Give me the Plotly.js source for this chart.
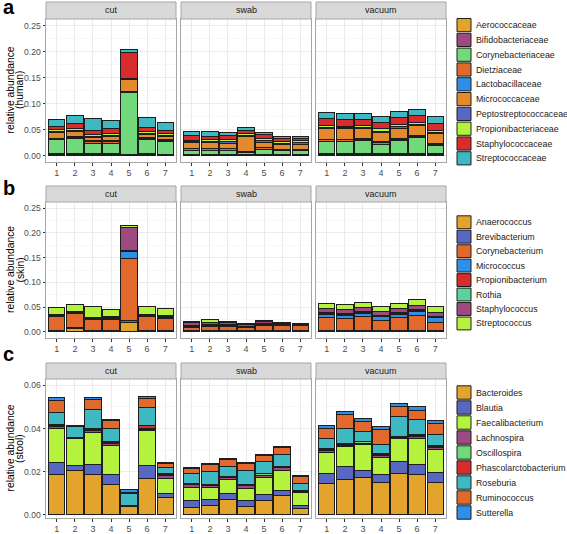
<!DOCTYPE html>
<html><head><meta charset="utf-8">
<script src="https://cdn.plot.ly/plotly-3.0.1.min.js"></script>
<style>html,body{margin:0;padding:0;background:#fff}#chart{width:567px;height:534px}</style>
</head><body><div id="chart"></div>
<script>
// ---------- DATA ----------
const samples = [1, 2, 3, 4, 5, 6, 7];
const facets = ['cut', 'swab', 'vacuum'];

const humanTaxa = ['Aerococcaceae','Bifidobacteriaceae','Corynebacteriaceae','Dietziaceae','Lactobacillaceae','Micrococcaceae','Peptostreptococcaceae','Propionibacteriaceae','Staphylococcaceae','Streptococcaceae'];
// rows = samples 1..7, columns = humanTaxa
const humanCut = [
  [0.002,0.001,0.027,0.002,0.001,0.011,0.002,0.004,0.005,0.015],
  [0.002,0.001,0.030,0.002,0.001,0.011,0.001,0.004,0.010,0.015],
  [0.002,0.001,0.021,0.003,0.001,0.007,0.002,0.004,0.008,0.022],
  [0.002,0.001,0.021,0.003,0.001,0.009,0.002,0.004,0.008,0.017],
  [0.0005,0.0005,0.121,0.001,0.0005,0.023,0.0005,0.001,0.051,0.005],
  [0.002,0.001,0.027,0.003,0.001,0.007,0.002,0.004,0.007,0.019],
  [0.001,0.001,0.024,0.003,0.001,0.007,0.002,0.003,0.006,0.016]
];
const humanSwab = [
  [0.001,0.001,0.008,0.003,0.0005,0.011,0.002,0.003,0.009,0.007],
  [0.001,0.001,0.008,0.003,0.0005,0.011,0.002,0.004,0.006,0.010],
  [0.001,0.001,0.008,0.003,0.0005,0.010,0.003,0.004,0.008,0.005],
  [0.001,0.001,0.003,0.002,0.0005,0.030,0.001,0.004,0.006,0.005],
  [0.001,0.001,0.010,0.003,0.0005,0.010,0.003,0.004,0.008,0.004],
  [0.001,0.001,0.007,0.003,0.0005,0.008,0.003,0.004,0.006,0.003],
  [0.001,0.001,0.007,0.003,0.0005,0.009,0.003,0.004,0.005,0.004]
];
const humanVacuum = [
  [0.002,0.001,0.024,0.003,0.001,0.020,0.002,0.004,0.014,0.012],
  [0.002,0.001,0.024,0.003,0.001,0.020,0.002,0.003,0.013,0.012],
  [0.002,0.001,0.026,0.002,0.001,0.019,0.002,0.004,0.012,0.012],
  [0.002,0.001,0.019,0.003,0.001,0.019,0.002,0.005,0.011,0.012],
  [0.002,0.001,0.025,0.003,0.001,0.020,0.003,0.005,0.013,0.012],
  [0.002,0.001,0.031,0.003,0.001,0.019,0.002,0.004,0.014,0.012],
  [0.002,0.001,0.016,0.003,0.001,0.019,0.003,0.004,0.013,0.013]
];

const skinTaxa = ['Anaerococcus','Brevibacterium','Corynebacterium','Micrococcus','Propionibacterium','Rothia','Staphylococcus','Streptococcus'];
const skinCut = [
  [0.001,0.001,0.028,0.001,0.001,0.001,0.002,0.014],
  [0.006,0.002,0.029,0.001,0.001,0.001,0.001,0.014],
  [0.001,0.001,0.022,0.001,0.001,0.001,0.001,0.023],
  [0.001,0.001,0.022,0.001,0.001,0.002,0.002,0.015],
  [0.019,0.004,0.125,0.014,0.001,0.001,0.046,0.006],
  [0.001,0.001,0.028,0.001,0.001,0.002,0.002,0.016],
  [0.001,0.002,0.024,0.001,0.001,0.002,0.001,0.016]
];
const skinSwab = [
  [0.001,0.001,0.007,0.001,0.001,0.001,0.006,0.003],
  [0.001,0.001,0.009,0.001,0.001,0.001,0.004,0.007],
  [0.001,0.001,0.009,0.001,0.001,0.001,0.005,0.002],
  [0.001,0.001,0.006,0.001,0.001,0.001,0.003,0.003],
  [0.001,0.001,0.011,0.001,0.001,0.001,0.004,0.003],
  [0.001,0.001,0.010,0.0005,0.0005,0.001,0.002,0.002],
  [0.001,0.001,0.010,0.0005,0.0005,0.001,0.002,0.0015]
];
const skinVacuum = [
  [0.001,0.002,0.026,0.006,0.002,0.003,0.008,0.010],
  [0.001,0.002,0.024,0.006,0.002,0.003,0.008,0.010],
  [0.001,0.001,0.028,0.007,0.002,0.002,0.008,0.010],
  [0.001,0.002,0.020,0.007,0.002,0.002,0.007,0.010],
  [0.001,0.002,0.026,0.007,0.002,0.002,0.008,0.010],
  [0.001,0.002,0.031,0.007,0.003,0.002,0.008,0.011],
  [0.001,0.002,0.016,0.009,0.002,0.001,0.009,0.011]
];

const stoolTaxa = ['Bacteroides','Blautia','Faecalibacterium','Lachnospira','Oscillospira','Phascolarctobacterium','Roseburia','Ruminococcus','Sutterella'];
const stoolCut = [
  [0.0185,0.006,0.0155,0.0008,0.0007,0.0005,0.0055,0.0055,0.0015],
  [0.0208,0.0022,0.0122,0.0002,0.0002,0.0002,0.005,0.0004,0.0003],
  [0.0185,0.005,0.0145,0.0012,0.0005,0.0003,0.009,0.0045,0.001],
  [0.014,0.0045,0.0135,0.001,0.0005,0.0005,0.006,0.0035,0.0007],
  [0.0037,0.0002,0.0001,0.0001,0.0001,0.0001,0.0057,0.0004,0.0012],
  [0.0171,0.0056,0.0163,0.0007,0.0005,0.001,0.0085,0.004,0.0013],
  [0.0082,0.0016,0.0072,0.0012,0.0005,0.0003,0.003,0.0018,0.0007]
];
const stoolSwab = [
  [0.0035,0.003,0.0062,0.0012,0.0003,0.0002,0.0046,0.0026,0.0003],
  [0.0045,0.0025,0.0055,0.0012,0.0003,0.0002,0.006,0.0032,0.0003],
  [0.0072,0.0026,0.0067,0.0008,0.0003,0.0002,0.0045,0.0033,0.0006],
  [0.004,0.0027,0.0056,0.0012,0.0003,0.0002,0.0064,0.0033,0.0005],
  [0.0065,0.003,0.008,0.0008,0.0007,0.0002,0.0055,0.003,0.0005],
  [0.009,0.0023,0.0092,0.0015,0.0003,0.0002,0.0055,0.003,0.0005],
  [0.0028,0.0017,0.0057,0.0004,0.0003,0.0002,0.0036,0.0032,0.0003]
];
const stoolVacuum = [
  [0.0145,0.0045,0.010,0.001,0.0004,0.0003,0.0048,0.0043,0.0017],
  [0.0163,0.0059,0.0093,0.0006,0.0004,0.0005,0.007,0.0065,0.0015],
  [0.0175,0.003,0.012,0.0007,0.0008,0.0002,0.0045,0.0047,0.0014],
  [0.015,0.0038,0.0077,0.001,0.0006,0.0004,0.0042,0.0068,0.0015],
  [0.019,0.0058,0.0107,0.0004,0.0003,0.0003,0.009,0.0045,0.0015],
  [0.0187,0.0048,0.012,0.0007,0.0005,0.0003,0.007,0.0045,0.0015],
  [0.0148,0.0047,0.011,0.0007,0.0004,0.0004,0.005,0.0055,0.0011]
];

// ---------- STYLE ----------
const humanColors = ['#E2A42C','#9C4A7F','#72D97B','#E2692C','#2F8FE6','#E58A2C','#5867C2','#B5F23E','#D82C2C','#3FB9C1'];
const skinColors  = ['#E2A42C','#5867C2','#E2692C','#2F8FE6','#D82C2C','#5CD19A','#9C4A7F','#B5F23E'];
const stoolColors = ['#E2A42C','#5867C2','#B5F23E','#9C4A7F','#72D97B','#D82C2C','#3FB9C1','#E2692C','#2F8FE6'];

const W = 567, H = 534;
const fx = v => v / W, fy = v => 1 - v / H;
const FONT = 'Liberation Sans, Arial, sans-serif';
const colX = [[46,176],[181,311],[316,446]];

const panels = [
  {taxa: humanTaxa, colors: humanColors, data: [humanCut, humanSwab, humanVacuum],
   strip: [2,19], plot: [19,162], range: [-0.0125,0.2625], dtick: 0.05, minor: 0.025,
   title: ['relative abundance', '(human)'], letter: 'a', letterY: 7, legTop: 17.7, legPitch: 14.8},
  {taxa: skinTaxa, colors: skinColors, data: [skinCut, skinSwab, skinVacuum],
   strip: [186,202], plot: [202,338], range: [-0.0125,0.2625], dtick: 0.05, minor: 0.025,
   title: ['relative abundance', '(skin)'], letter: 'b', letterY: 188, legTop: 215, legPitch: 14.46},
  {taxa: stoolTaxa, colors: stoolColors, data: [stoolCut, stoolSwab, stoolVacuum],
   strip: [363,379], plot: [379,518], range: [-0.0014,0.0629], dtick: 0.02, minor: 0.01,
   title: ['relative abundance', '(stool)'], letter: 'c', letterY: 354, legTop: 385, legPitch: 15}
];

const traces = [];
const shapes = [];
const annotations = [];
const layout = {
  width: W, height: H,
  margin: {l:0, r:0, t:0, b:0},
  paper_bgcolor: '#ffffff', plot_bgcolor: '#ffffff',
  font: {family: FONT, size: 9, color: '#4d4d4d'},
  barmode: 'stack',
  showlegend: false
};

let k = 0;
panels.forEach((p, pi) => {
  p.data.forEach((fd, fi) => {
    k++;
    const xn = k === 1 ? 'x' : 'x' + k;
    const yn = k === 1 ? 'y' : 'y' + k;
    const xa = k === 1 ? 'xaxis' : 'xaxis' + k;
    const ya = k === 1 ? 'yaxis' : 'yaxis' + k;
    p.taxa.forEach((t, ti) => {
      traces.push({
        type: 'bar', name: t, x: samples, y: fd.map(r => r[ti]),
        xaxis: xn, yaxis: yn, width: 0.9,
        marker: {color: p.colors[ti], line: {color: '#1e1e1e', width: 1}},
        showlegend: false, hovertemplate: t + ': %{y}<extra></extra>'
      });
    });
    layout[xa] = {
      domain: [fx(colX[fi][0]), fx(colX[fi][1])], anchor: yn,
      range: [0.4, 7.6], tickvals: samples, ticktext: samples.map(String),
      ticks: 'outside', ticklen: 2.5, tickcolor: '#333', tickwidth: 1,
      showline: true, mirror: true, linecolor: '#a6a6a6', linewidth: 1,
      showgrid: true, gridcolor: '#ebebeb', gridwidth: 1, zeroline: false,
      tickfont: {family: FONT, size: 9, color: '#4d4d4d'}, fixedrange: true
    };
    layout[ya] = {
      domain: [fy(p.plot[1]), fy(p.plot[0])], anchor: xn,
      range: p.range, tick0: 0, dtick: p.dtick, tickformat: '.2f',
      showticklabels: fi === 0, ticks: fi === 0 ? 'outside' : '',
      ticklen: 2.5, tickcolor: '#333', tickwidth: 1,
      showline: true, mirror: true, linecolor: '#a6a6a6', linewidth: 1,
      showgrid: true, gridcolor: '#ebebeb', gridwidth: 1, zeroline: false,
      minor: {dtick: p.minor, tick0: 0, showgrid: true, gridcolor: '#f4f4f4', gridwidth: 0.6},
      tickfont: {family: FONT, size: 8.6, color: '#4d4d4d'}, fixedrange: true
    };
    // facet strip
    shapes.push({type: 'rect', xref: 'paper', yref: 'paper',
      x0: fx(colX[fi][0]), x1: fx(colX[fi][1]), y0: fy(p.strip[1]), y1: fy(p.strip[0]),
      fillcolor: '#d9d9d9', line: {color: '#a6a6a6', width: 1}});
    annotations.push({xref: 'paper', yref: 'paper', showarrow: false,
      x: fx((colX[fi][0] + colX[fi][1]) / 2), y: fy((p.strip[0] + p.strip[1]) / 2),
      xanchor: 'center', yanchor: 'middle', text: facets[fi],
      font: {family: FONT, size: 9, color: '#1a1a1a'}});
  });
  // y-axis title (two lines, rotated)
  const yc = fy((p.plot[0] + p.plot[1]) / 2);
  annotations.push({xref: 'paper', yref: 'paper', showarrow: false, textangle: -90,
    x: fx(10), y: yc, xanchor: 'center', yanchor: 'middle', text: p.title[0],
    font: {family: FONT, size: 10.3, color: '#000'}});
  annotations.push({xref: 'paper', yref: 'paper', showarrow: false, textangle: -90,
    x: fx(19.5), y: yc, xanchor: 'center', yanchor: 'middle', text: p.title[1],
    font: {family: FONT, size: 10.3, color: '#000'}});
  // panel letter
  annotations.push({xref: 'paper', yref: 'paper', showarrow: false,
    x: fx(1), y: fy(p.letterY), xanchor: 'left', yanchor: 'middle',
    text: '<b>' + p.letter + '</b>', font: {family: FONT, size: 20, color: '#000'}});
  // legend key
  p.taxa.forEach((t, ti) => {
    const top = p.legTop + ti * p.legPitch;
    shapes.push({type: 'rect', xref: 'paper', yref: 'paper',
      x0: fx(457), x1: fx(471), y0: fy(top + p.legPitch - 0.8), y1: fy(top + 0.8),
      fillcolor: p.colors[ti], line: {color: '#1e1e1e', width: 1}});
    annotations.push({xref: 'paper', yref: 'paper', showarrow: false,
      x: fx(474), y: fy(top + p.legPitch / 2), xanchor: 'left', yanchor: 'middle',
      text: t, font: {family: FONT, size: 8.8, color: '#1a1a1a'}});
  });
});

layout.shapes = shapes;
layout.annotations = annotations;

Plotly.newPlot('chart', traces, layout, {displayModeBar: false, staticPlot: true});
</script>
</body></html>
